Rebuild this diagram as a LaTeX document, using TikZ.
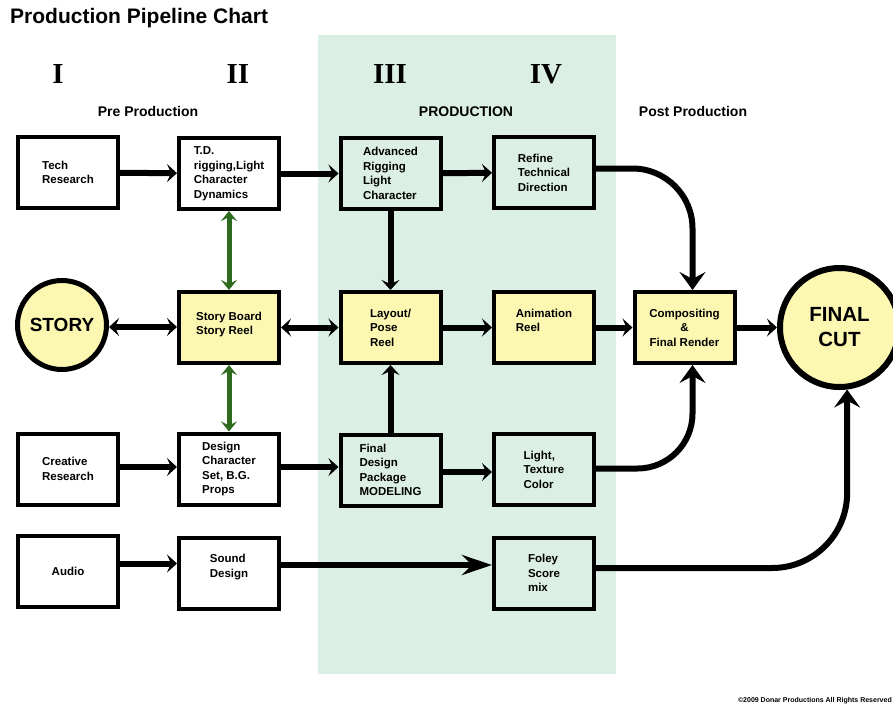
\documentclass[tikz,border=0pt]{standalone}
\usepackage{fontspec}
\setmainfont{Liberation Sans}
\newfontfamily\romanfont{Liberation Serif}
\usetikzlibrary{arrows.meta}
\definecolor{prodgreen}{HTML}{DCEFE4}
\definecolor{storyyellow}{HTML}{FCF8B2}
\definecolor{linkgreen}{HTML}{2E6B1F}
\begin{document}
\begin{tikzpicture}[x=1pt,y=-1pt,
  box/.style={draw, line width=4pt, minimum width=100pt, minimum height=71pt, align=left,
    font=\bfseries\fontsize{11.5}{14.5}\selectfont, inner sep=2pt},
  whitebox/.style={box, fill=white},
  yellowbox/.style={box, fill=storyyellow},
  greenbox/.style={box},
  numlabel/.style={anchor=base, font=\romanfont\bfseries\fontsize{29}{32}\selectfont},
  seclabel/.style={anchor=base, font=\bfseries\fontsize{14}{16}\selectfont},
  conn/.style={line width=6pt, -{Stealth[length=10pt,width=18pt,inset=4pt]}},
  dconn/.style={line width=6pt, {Stealth[length=10pt,width=18pt,inset=4pt]}-{Stealth[length=10pt,width=18pt,inset=4pt]}},
  gconn/.style={line width=5pt, draw=linkgreen, {Stealth[length=10pt,width=16pt,inset=4pt]}-{Stealth[length=10pt,width=16pt,inset=4pt]}},
  bigconn/.style={line width=6pt, -{Stealth[length=18pt,width=26pt,inset=7pt]}},
  longconn/.style={line width=6pt, -{Stealth[length=30pt,width=20pt,inset=10pt]}},
]
\fill[white] (0,0) rectangle (893,704);
\useasboundingbox (0,0) rectangle (893,704);
\fill[prodgreen] (318,35) rectangle (616,674);

% titles
\node[anchor=base west, font=\bfseries\fontsize{21}{25}\selectfont, inner sep=0pt] (title) at (10,23) {Production Pipeline Chart};
\node[numlabel] (n1) at (58,83) {I};
\node[numlabel] (n2) at (238,83) {II};
\node[numlabel] (n3) at (390,83) {III};
\node[numlabel] (n4) at (546,83) {IV};
\node[seclabel] (pre) at (148,116) {Pre Production};
\node[seclabel] (prod) at (466,116) {PRODUCTION};
\node[seclabel] (post) at (693,116) {Post Production};

% row 1
\node[whitebox] (tech) at (68,172.5) {Tech\\Research};
\node[whitebox] (td) at (229,173.5) {T.D.\\rigging,Light\\Character\\Dynamics};
\node[greenbox] (adv) at (390.5,173.5) {Advanced\\Rigging\\Light\\Character};
\node[greenbox] (refine) at (544,172.5) {Refine\\Technical\\Direction};

% row 2
\node[circle, draw, line width=5pt, fill=storyyellow, minimum size=89pt, inner sep=0pt,
  font=\bfseries\fontsize{19}{22}\selectfont] (story) at (62,325) {STORY};
\node[yellowbox] (sb) at (229,327.5) {Story Board\\Story Reel\\[-6pt]\mbox{}};
\node[yellowbox] (layout) at (390.5,327.5) {Layout/\\Pose\\Reel};
\node[yellowbox] (anim) at (544,327.5) {Animation\\Reel\\\mbox{}};
\node[yellowbox, align=center] (comp) at (684.5,327.5) {Compositing\\\&\\Final Render};
\node[circle, draw, line width=6pt, fill=storyyellow, minimum size=119pt, inner sep=0pt, align=center,
  font=\bfseries\fontsize{20.5}{25}\selectfont] (fc) at (839.5,327.5) {FINAL\\CUT};

% row 3
\node[whitebox] (creative) at (68,469) {Creative\\Research};
\node[whitebox] (design) at (229,469) {Design\\Character\\Set, B.G.\\Props};
\node[greenbox] (fdp) at (390.5,470) {Final\\Design\\Package\\MODELING};
\node[greenbox] (light) at (544,469.5) {Light,\\Texture\\Color};

% row 4
\node[whitebox] (audio) at (68,571.5) {Audio};
\node[whitebox] (sound) at (229,573) {Sound\\Design\\\mbox{}};
\node[greenbox] (foley) at (544,573) {Foley\\Score\\mix};

\node[anchor=base east, font=\bfseries\fontsize{7}{8}\selectfont, inner sep=0pt] (copy) at (892,702) {©2009 Donar Productions All Rights Reserved};

% connectors
\draw[conn] (tech) -- (td);
\draw[conn] (td) -- (adv);
\draw[conn] (adv) -- (refine);
\draw[conn] (adv.south) -- (layout.north);
\draw[dconn] ([yshift=-2pt]story.east) -- ([yshift=-2pt]story.east -| sb.west);
\draw[dconn] (sb) -- (layout);
\draw[conn] (layout) -- (anim);
\draw[conn] (anim) -- (comp);
\draw[conn] (comp) -- (fc);
\draw[gconn] (td.south) -- (sb.north);
\draw[gconn] (sb.south) -- (design.north);
\draw[conn] ([yshift=2pt]creative.east) -- ([yshift=2pt]creative.east -| design.west);
\draw[conn] ([yshift=2pt]design.east) -- ([yshift=2pt]design.east -| fdp.west);
\draw[conn] ([yshift=-2pt]fdp.east) -- ([yshift=-2pt]fdp.east -| light.west);
\draw[conn] (fdp.north) -- (layout.south);
\draw[conn] ([yshift=8pt]audio.east) -- ([yshift=8pt]audio.east -| sound.west);
\draw[longconn] ([yshift=8pt]sound.east) -- ([yshift=8pt]sound.east -| foley.west);
\draw[bigconn, rounded corners=60pt] ([yshift=4pt]refine.east) -| ([xshift=8pt]comp.north);
\draw[bigconn, rounded corners=55pt] ([yshift=1pt]light.east) -| ([xshift=8pt]comp.south);
\draw[bigconn, rounded corners=75pt] ([yshift=5pt]foley.east) -| (fc.-83);
\end{tikzpicture}
\end{document}
